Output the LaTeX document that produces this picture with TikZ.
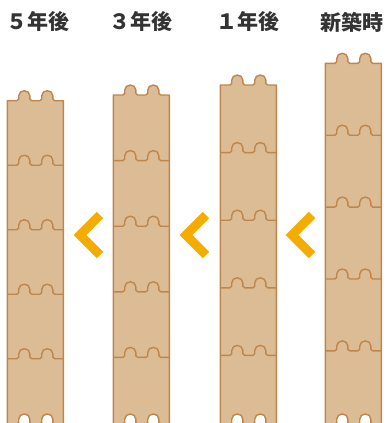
\documentclass[tikz,border=0pt]{standalone}
\usepackage{fontspec}
\newfontfamily\jpfont{Noto Sans CJK JP}
\definecolor{logFill}{RGB}{220,188,148}
\definecolor{logStroke}{RGB}{190,134,76}
\definecolor{arrowOrange}{RGB}{245,172,0}
\colorlet{ink}{black!80}
\tikzset{
  logwall/.style={draw=logStroke, fill=logFill, line width=1.4pt, line join=round},
  seam/.style={draw=logStroke, line width=1.4pt, line join=round},
  groove/.style={draw=logStroke, fill=white, line width=1.4pt},
  chevron/.style={draw=arrowOrange, line width=9pt, line cap=butt, line join=miter},
  yearlabel/.style={font=\jpfont\bfseries\fontsize{21}{21}\selectfont, text=ink, inner sep=0pt},
  % one rounded tongue, centre x and base y
  tongue/.style 2 args={insert path={
    -- ({#1-7.5},#2) .. controls ({#1-5},#2) and ({#1-5.5},{#2-2.5}) .. ({#1-5.5},{#2-5})
    .. controls ({#1-5.5},{#2-8}) and ({#1-3},{#2-10}) .. (#1,{#2-10})
    .. controls ({#1+3},{#2-10}) and ({#1+5.5},{#2-8}) .. ({#1+5.5},{#2-5})
    .. controls ({#1+5.5},{#2-2.5}) and ({#1+5},#2) .. ({#1+7.5},#2)}}
}
% a wall of five stacked logs: left edge, top edge, log height
\newcommand{\LogColumn}[3]{%
  \pgfmathsetmacro{\colR}{#1+56}%
  \pgfmathsetmacro{\tongueA}{#1+17}%
  \pgfmathsetmacro{\tongueB}{#1+40}%
  \filldraw[logwall] (#1,430) -- (#1,#2) [tongue={\tongueA}{#2}] [tongue={\tongueB}{#2}]
    -- (\colR,#2) -- (\colR,430) -- cycle;
  \foreach \k in {1,...,4}{%
    \pgfmathsetmacro{\seamY}{#2+\k*#3}%
    \draw[seam] (#1,\seamY) [tongue={\tongueA}{\seamY}] [tongue={\tongueB}{\seamY}] -- (\colR,\seamY);
  }%
  \filldraw[groove] (\tongueA-7.5,424) [tongue={\tongueA}{424}] -- cycle;
  \filldraw[groove] (\tongueB-7.5,424) [tongue={\tongueB}{424}] -- cycle;
}

\begin{document}
\begin{tikzpicture}[x=1pt,y=-1pt]
  \clip (0,0) rectangle (389,423);

  \node[yearlabel] (fiveYears) at (38,22) {５年後};
  \node[yearlabel] (threeYears) at (141.3,22) {３年後};
  \node[yearlabel] (oneYear) at (248.3,22) {１年後};
  \node[yearlabel] (newBuild) at (352,22) {新築時};

  \LogColumn{7.3}{100.7}{64.5}
  \LogColumn{113.3}{95}{65.6}
  \LogColumn{220.3}{85}{67.6}
  \LogColumn{325.3}{63.3}{71.9}

  % settling direction
  \foreach \x in {80,186,292}
    \draw[chevron] (\x+20,215) -- (\x,235) -- (\x+20,255);
\end{tikzpicture}
\end{document}
